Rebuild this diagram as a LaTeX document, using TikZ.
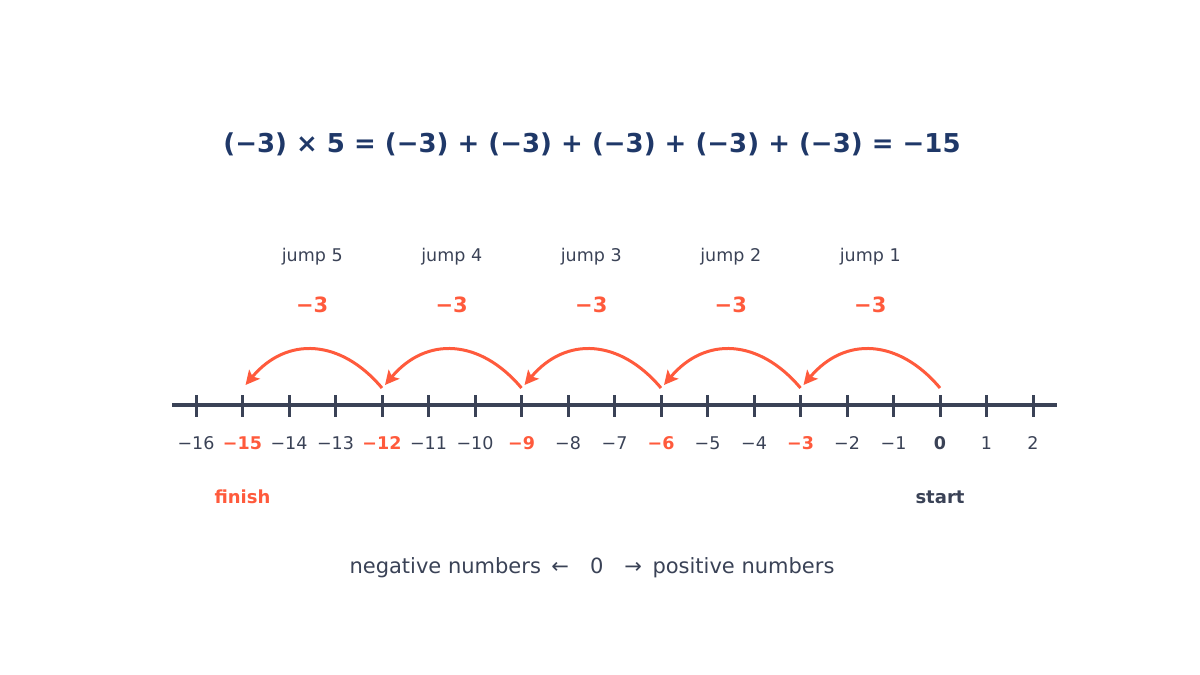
\documentclass[tikz,border=0pt]{standalone}
\usepackage{fontspec}
\setmainfont{DejaVu Sans}
\usetikzlibrary{arrows.meta}
\definecolor{hopred}{HTML}{FF5A3C}
\definecolor{axisgray}{HTML}{3A4256}
\definecolor{titleblue}{HTML}{1F3868}
\tikzset{
	numlabel/.style={text=axisgray, font=\fontsize{17.5}{20}\selectfont},
	hitlabel/.style={text=hopred, font=\fontsize{17.5}{20}\selectfont\bfseries},
	hop/.style={draw=hopred, line width=3pt, -{Stealth[length=14pt,width=14pt,inset=3pt]},
		out=130, in=50, looseness=1.2},
}
\begin{document}
\begin{tikzpicture}[x=1pt, y=1pt]
\useasboundingbox (0,0) rectangle (1200,675);
% title
\node[text=titleblue, font=\fontsize{26}{30}\selectfont\bfseries] (title) at (592,531)
	{(−3) × 5 = (−3) + (−3) + (−3) + (−3) + (−3) = −15};
% number line
\draw[axisgray, line width=4pt] (172,270) -- (1057,270);
\foreach \n in {-16,...,2} \draw[axisgray, line width=3pt]
	({940+46.5*\n},258) -- ({940+46.5*\n},280);
\foreach \n/\t in {-16/−16,-14/−14,-13/−13,-11/−11,-10/−10,-8/−8,-7/−7,
		-5/−5,-4/−4,-2/−2,-1/−1,1/1,2/2}
	\node[numlabel] (n\n) at ({940+46.5*\n},232) {\t};
\foreach \n/\t in {-15/15,-12/12,-9/9,-6/6,-3/3}
	\node[hitlabel] (n\n) at ({940+46.5*\n},232) {−\t};
\node[numlabel, font=\fontsize{17.5}{20}\selectfont\bfseries] (n0) at (940,232) {0};
% jumps
\foreach \k in {0,...,5}
	\coordinate (a\k) at ({940-139.5*\k},287);
\foreach \k in {1,...,5}
	\coordinate (b\k) at ({940-139.5*\k+3},290);
\foreach \k [evaluate=\k as \j using int(\k-1)] in {1,...,5} {
	\draw[hop] (a\j) to (b\k);
	\node[text=axisgray, font=\fontsize{17.5}{20}\selectfont] (jump\k)
		at ({940-139.5*\k+69.75},418) {jump \k};
	\node[text=hopred, font=\fontsize{21}{24}\selectfont\bfseries] (step\k)
		at ({940-139.5*\k+69.75},370) {−3};
}
% ends
\node[hitlabel, font=\fontsize{18}{20}\selectfont\bfseries] (finish) at (242.5,178) {finish};
\node[numlabel, font=\fontsize{18}{20}\selectfont\bfseries] (start) at (940,178) {start};
\node[text=axisgray, font=\fontsize{21}{24}\selectfont] (legend) at (592,107)
	{negative numbers\enspace ←\enspace\enspace 0\enspace\enspace →\enspace positive numbers};
\end{tikzpicture}
\end{document}
